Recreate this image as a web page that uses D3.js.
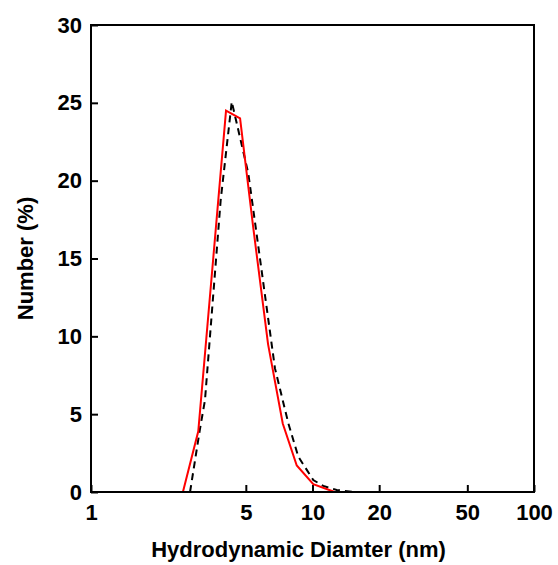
<!DOCTYPE html>
<html>
<head>
<meta charset="utf-8">
<script src="https://cdn.jsdelivr.net/npm/d3@7"></script>
<style>
  body { margin: 0; background: #fff; }
  svg text { font-family: "Liberation Sans", Arial, sans-serif; font-weight: bold; }
</style>
</head>
<body>
<svg id="chart" width="558" height="565"></svg>
<script>
// measured size distribution (red, solid)
const measuredDiam = [2.60, 3.05, 4.07, 4.71, 5.40, 6.30, 7.34, 8.49, 10.08, 12.6];
const measuredNum  = [0, 3.9, 24.5, 24.0, 17.0, 9.5, 4.4, 1.7, 0.5, 0];

// fitted distribution (black, dashed)
const fitDiam = [2.80, 3.10, 3.27, 3.85, 4.32, 5.13, 5.75, 6.77, 7.78, 8.63, 10.08, 11.19, 12.86, 15.5];
const fitNum  = [0, 4.0, 5.9, 18.75, 25.07, 20.47, 15.33, 7.94, 4.41, 2.27, 0.77, 0.39, 0.13, 0];

const xTicks = [1, 5, 10, 20, 50, 100];
const yTicks = [0, 5, 10, 15, 20, 25, 30];

const svg = d3.select("#chart");
const margin = { left: 91, right: 24, top: 25, bottom: 73 };
const width = 558 - margin.left - margin.right;
const height = 565 - margin.top - margin.bottom;

const x = d3.scaleLog().domain([1, 100]).range([0, width]);
const y = d3.scaleLinear().domain([0, 30]).range([height, 0]);

const g = svg.append("g").attr("transform", `translate(${margin.left},${margin.top})`);

// axes (ticks point inward)
const xAxis = d3.axisBottom(x).tickValues(xTicks).tickFormat(d3.format("d"))
    .tickSizeInner(-7).tickSizeOuter(0).tickPadding(12);
const yAxis = d3.axisLeft(y).tickValues(yTicks)
    .tickSizeInner(-7).tickSizeOuter(0).tickPadding(9);

const gx = g.append("g").attr("transform", `translate(0,${height})`).call(xAxis);
const gy = g.append("g").call(yAxis);

[gx, gy].forEach(a => {
    a.select(".domain").remove();
    a.selectAll(".tick line").attr("stroke", "#000").attr("stroke-width", 2);
    a.selectAll(".tick text").attr("font-size", 22).attr("fill", "#000")
        .style("font-family", "'Liberation Sans', Arial, sans-serif").style("font-weight", "bold");
});
gx.selectAll(".tick text").attr("dy", "0.71em");

// lines
const line = d3.line().x(d => x(d[0])).y(d => y(d[1]));

g.append("path")
    .datum(d3.zip(fitDiam, fitNum))
    .attr("d", line)
    .attr("fill", "none")
    .attr("stroke", "#000")
    .attr("stroke-width", 2)
    .attr("stroke-dasharray", "7,5");

g.append("path")
    .datum(d3.zip(measuredDiam, measuredNum))
    .attr("d", line)
    .attr("fill", "none")
    .attr("stroke", "#ff0000")
    .attr("stroke-width", 2);

// frame
g.append("rect")
    .attr("width", width).attr("height", height)
    .attr("fill", "none").attr("stroke", "#000").attr("stroke-width", 2);

// axis titles
svg.append("text")
    .attr("x", margin.left + width / 2 - 14)
    .attr("y", 557)
    .attr("text-anchor", "middle")
    .attr("font-size", 22)
    .text("Hydrodynamic Diamter (nm)");

svg.append("text")
    .attr("transform", `translate(33,${margin.top + height / 2}) rotate(-90)`)
    .attr("text-anchor", "middle")
    .attr("font-size", 22)
    .text("Number (%)");
</script>
</body>
</html>
